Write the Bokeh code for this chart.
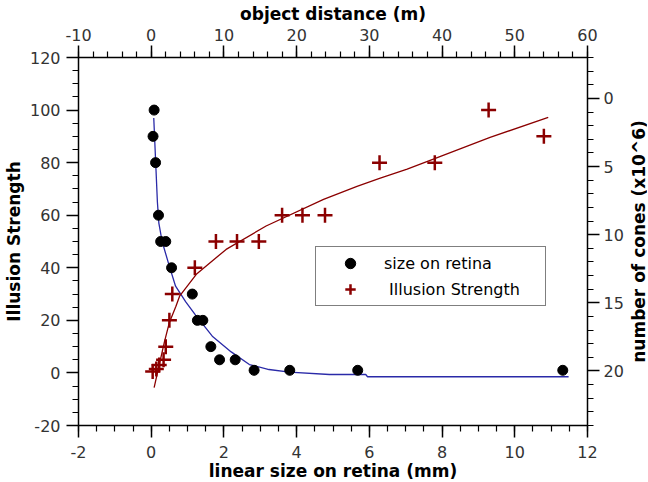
import math
from bokeh.plotting import figure
from bokeh.layouts import row
from bokeh.models import (Range1d, LinearAxis, SingleIntervalTicker, Legend, LegendItem, Label,
                          CustomJSTickFormatter)
from bokeh.embed import file_html
from bokeh.resources import INLINE

# size on retina (mm) vs illusion strength
retina_x = [0.08, 0.05, 0.12, 0.2, 0.26, 0.4, 0.56, 1.13, 1.27, 1.42, 1.64, 1.88, 2.31, 2.83, 3.81, 5.68, 11.32]
retina_y = [100, 90, 80, 60, 50, 50, 40, 30, 20, 20, 10, 5, 5, 1, 1, 1, 1]

# fitted curve for size on retina
retina_fit_x = [0.07, 0.12, 0.17, 0.21, 0.30, 0.49, 0.67, 0.95, 1.22, 1.68, 2.2, 2.7, 3.24, 3.8, 4.9, 5.9, 5.95, 11.48]
retina_fit_y = [97, 81, 65, 57, 50, 41, 33, 27, 22, 14, 8, 3.2, 1.3, 0.3, -0.6, -0.6, -1.45, -1.45]

# object distance (m) vs illusion strength
dist_x = [0.2, 0.7, 1.1, 1.7, 2.0, 2.5, 2.9, 6.0, 8.9, 11.8, 14.8, 18.0, 20.8, 23.9, 31.4, 39.0, 46.4, 54.0]
dist_y = [0.5, 1.5, 3, 5, 10, 20, 30, 40, 50, 50, 50, 60, 60, 60, 80, 80, 100, 90]

# fitted curve for object distance
dist_fit_x = [0.4, 1.8, 2.5, 3.4, 3.9, 6.2, 10.3, 15.8, 23.7, 28.3, 31.4, 35.2, 38.8, 46.6, 54.6]
dist_fit_y = [-5.6, 11.6, 19.2, 25.4, 29.2, 37.5, 47, 55.9, 66, 71, 74, 77.5, 81.3, 89.6, 97.2]

RIGHT_LABEL = "number of cones (x10^6)"

FONT = "DejaVu Sans"
TICK_COLOR = "#333333"
RED = "#8b0000"
BLUE = "#2a2aa8"

FRAME_H = 368
TOP_BORDER = 50

p = figure(frame_width=509, frame_height=FRAME_H, output_backend="svg", toolbar_location=None,
           x_range=Range1d(-2, 12), y_range=Range1d(-20, 120),
           min_border_left=71, min_border_right=42, min_border_top=0, min_border_bottom=0,
           x_axis_location=None, y_axis_location=None)
p.extra_x_ranges = {"dist": Range1d(-10, 60)}
p.extra_y_ranges = {"cones": Range1d(24, -3)}
p.outline_line_color = None
p.xgrid.visible = False
p.ygrid.visible = False
p.background_fill_color = "white"
p.border_fill_color = "white"

def style(ax, label, label_standoff, tick_standoff):
    ax.axis_label = label
    ax.axis_label_text_font = FONT
    ax.axis_label_text_font_style = "bold"
    ax.axis_label_text_font_size = "17px"
    ax.axis_label_text_color = "black"
    ax.axis_label_standoff = label_standoff
    ax.formatter = CustomJSTickFormatter(code="return tick.toString()")
    ax.major_label_text_font = FONT
    ax.major_label_text_font_size = "16px"
    ax.major_label_text_color = TICK_COLOR
    ax.major_label_standoff = tick_standoff
    ax.axis_line_color = "black"
    ax.axis_line_width = 1.5
    ax.major_tick_line_color = "black"
    ax.minor_tick_line_color = "black"
    ax.major_tick_line_width = 1.5
    ax.minor_tick_line_width = 1.2
    ax.major_tick_out = 12
    ax.major_tick_in = 0
    ax.minor_tick_out = 6
    ax.minor_tick_in = 0

bottom = LinearAxis(ticker=SingleIntervalTicker(interval=2, num_minor_ticks=4))
style(bottom, "linear size on retina (mm)", 0, 8)
p.add_layout(bottom, "below")

left = LinearAxis(ticker=SingleIntervalTicker(interval=20, num_minor_ticks=4))
style(left, "Illusion Strength", 3, 6)
p.add_layout(left, "left")

top = LinearAxis(x_range_name="dist", ticker=SingleIntervalTicker(interval=10, num_minor_ticks=5))
style(top, "object distance (m)", 2, 5)
p.add_layout(top, "above")

right = LinearAxis(y_range_name="cones", ticker=SingleIntervalTicker(interval=5, num_minor_ticks=5))
style(right, None, 0, 4)
p.add_layout(right, "right")

p.line(retina_fit_x, retina_fit_y, line_color=BLUE, line_width=1.3)
p.line(dist_fit_x, dist_fit_y, line_color=RED, line_width=1.3, x_range_name="dist")
r1 = p.scatter(retina_x, retina_y, marker="circle", size=10, fill_color="black", line_color="black")
r2 = p.scatter(dist_x, dist_y, marker="cross", size=15, line_color=RED, line_width=2.5,
               x_range_name="dist")

legend = Legend(items=[LegendItem(label="size on retina", renderers=[r1]),
                       LegendItem(label=" Illusion Strength", renderers=[r2])],
                location=(237, 119), margin=0, padding=3, spacing=0,
                glyph_width=62, glyph_height=26, label_height=26, label_width=158,
                label_standoff=3, label_text_font=FONT, label_text_font_size="16px",
                label_text_color="black", border_line_color="black", border_line_width=1.2,
                background_fill_alpha=1.0)
p.add_layout(legend, "center")

# narrow strip holding the right-hand axis title, reading bottom to top
p2 = figure(frame_width=18, frame_height=FRAME_H, output_backend="svg", toolbar_location=None,
            x_range=Range1d(0, 1), y_range=Range1d(0, 1),
            min_border_left=0, min_border_right=0, min_border_top=TOP_BORDER, min_border_bottom=0,
            x_axis_location=None, y_axis_location=None)
p2.outline_line_color = None
p2.xgrid.visible = False
p2.ygrid.visible = False
p2.background_fill_color = "white"
p2.border_fill_color = "white"
p2.add_layout(Label(x=9, y=FRAME_H / 2, x_units="screen", y_units="screen", text=RIGHT_LABEL,
                    angle=math.pi / 2, text_align="center", text_baseline="middle",
                    text_font=FONT, text_font_style="bold", text_font_size="17px",
                    text_color="black"))

layout = row(p, p2, spacing=0)
open("out.html", "w").write(file_html(layout, INLINE))
